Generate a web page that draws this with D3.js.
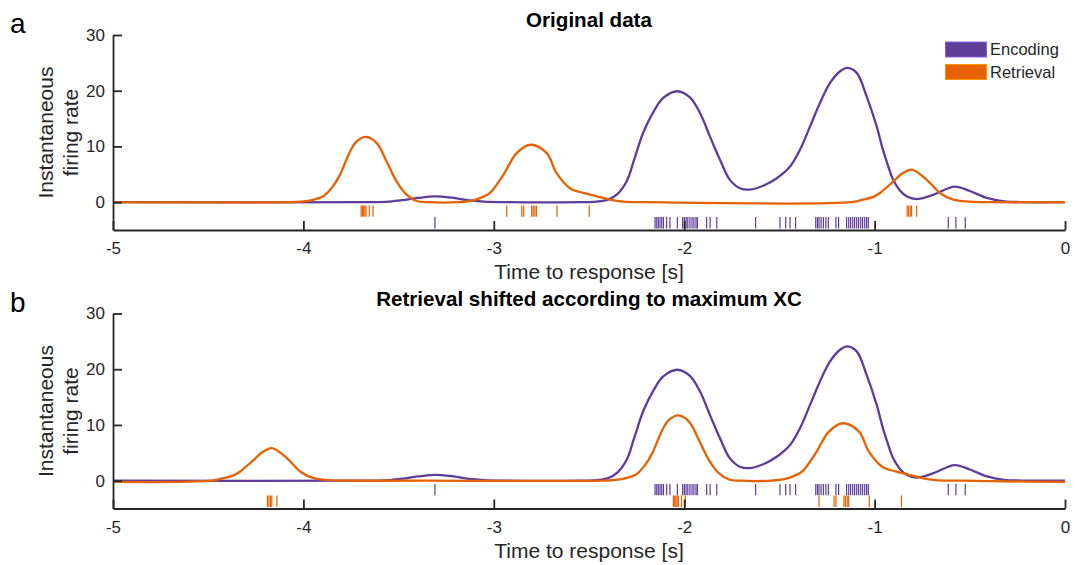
<!DOCTYPE html>
<html>
<head>
<meta charset="utf-8">
<script src="https://cdn.jsdelivr.net/npm/d3@7"></script>
<style>
  body { margin: 0; background: #fff; }
</style>
</head>
<body>
<svg id="chart" width="1076" height="565"></svg>
<script>
// firing rate curves (time to response [s], rate)
const encodingTimes = [-5, -3.65, -3.55, -3.48, -3.4, -3.31, -3.22, -3.14, -3.05, -2.95, -2.55, -2.46, -2.4, -2.35, -2.3, -2.265,
  -2.215, -2.16, -2.11, -2.035, -1.97, -1.917, -1.865, -1.812, -1.76, -1.707, -1.655, -1.585, -1.514, -1.444, -1.392, -1.339,
  -1.287, -1.234, -1.181, -1.143, -1.094, -1.042, -0.989, -0.958, -0.93, -0.905, -0.867, -0.83, -0.78, -0.69, -0.58, -0.5,
  -0.41, -0.32, -0.2, 0];
const encodingRates = [0, 0, 0.1, 0.35, 0.75, 1.05, 0.8, 0.35, 0.08, 0, 0, 0.1, 0.45, 1.5, 3.9, 7.4,
  12.5, 16.3, 18.7, 19.9, 18.8, 16.0, 11.8, 7.6, 4.0, 2.5, 2.25, 2.95, 4.3, 6.4, 9.4, 13.6,
  17.8, 21.4, 23.5, 24.1, 23.2, 19.0, 13.6, 9.6, 6.6, 4.2, 2.1, 1.0, 0.55, 1.35, 2.8, 2.0,
  0.75, 0.15, 0, 0];

const retrievalTimes = [-5, -4.08, -4.0, -3.94, -3.895, -3.85, -3.808, -3.755, -3.72, -3.671, -3.615, -3.563, -3.51, -3.458,
  -3.405, -3.35, -3.18, -3.108, -3.06, -3.02, -2.95, -2.88, -2.806, -2.722, -2.67, -2.6, -2.53, -2.46, -2.39, -2.32, -2.22,
  -1.12, -1.06, -1.01, -0.972, -0.902, -0.86, -0.805, -0.726, -0.657, -0.587, -0.5, -0.4, 0];
const retrievalRates = [0, 0, 0.12, 0.5, 1.05, 2.6, 4.9, 9.1, 10.9, 11.7, 10.6, 7.3, 3.7, 1.35,
  0.2, 0, 0, 0.3, 0.9, 1.65, 4.9, 8.8, 10.3, 8.8, 5.2, 2.5, 1.65, 1.05, 0.45, 0.1, 0,
  0, 0.45, 0.9, 1.65, 3.7, 5.0, 5.85, 4.0, 1.65, 0.45, 0.1, 0, 0];

// spike times (raster)
const encodingSpikes = [-3.309, -2.153, -2.144, -2.136, -2.127, -2.118, -2.109, -2.092, -2.075, -2.036,
  -2.008, -1.999, -1.99, -1.981, -1.97, -1.959, -1.949, -1.938, -1.931, -1.882, -1.864, -1.829, -1.625,
  -1.497, -1.467, -1.444, -1.415, -1.309, -1.3, -1.292, -1.281, -1.269, -1.256, -1.243, -1.203, -1.189,
  -1.147, -1.136, -1.126, -1.115, -1.105, -1.094, -1.084, -1.073, -1.063, -1.052, -1.042, -1.033,
  -0.613, -0.573, -0.524];
const retrievalSpikes = [-3.697, -3.69, -3.684, -3.677, -3.671, -3.654, -3.634, -2.932, -2.853, -2.843,
  -2.801, -2.793, -2.784, -2.776, -2.668, -2.499, -0.829, -0.821, -0.813, -0.806, -0.779];

// shift of retrieval at maximum cross-correlation [s]
const xcShift = 1.64;

const seriesNames = ["Encoding", "Retrieval"];
const panelLetters = ["a", "b"];
const panelTitles = ["Original data", "Retrieval shifted according to maximum XC"];
const xTicks = [-5, -4, -3, -2, -1, 0];
const yTicks = [0, 10, 20, 30];

const purple = "#5e3c99";
const orange = "#e66101";
const axisColor = "#262626";
const fontFamily = "'Liberation Sans', Arial, Helvetica, sans-serif";

let svg = d3.select("#chart");

let x = d3.scaleLinear().domain([-5, 0]).range([113, 1065]);

function toPoints(times, rates, shift) {
  return times.map((t, i) => [t + shift, rates[i]]);
}

function drawPanel(idx, top, bottom) {
  let g = svg.append("g");
  let y = d3.scaleLinear().domain([-5, 30]).range([bottom, top]);
  let shifted = idx === 1;

  let clipId = "clip" + idx;
  svg.append("clipPath").attr("id", clipId)
    .append("rect")
    .attr("x", x(-5)).attr("y", top - 20)
    .attr("width", x(0) - x(-5)).attr("height", bottom - top + 40);

  let line = d3.line()
    .x(d => x(d[0]))
    .y(d => y(d[1]))
    .curve(d3.curveCatmullRom.alpha(0.5));

  // raster rows: upper row right under zero, lower row just above the axis
  let upperRow = [-0.6, -2.6];
  let lowerRow = [-2.65, -4.75];
  let encRow = shifted ? upperRow : lowerRow;
  let retRow = shifted ? lowerRow : upperRow;

  let retSpikes = retrievalSpikes.map(t => {
    if (!shifted) return t;
    let s = t + xcShift;
    return s > 0 ? s - 5 : s;
  });

  g.selectAll(".enc-spike")
    .data(encodingSpikes)
    .enter()
    .append("line")
    .attr("x1", d => x(d)).attr("x2", d => x(d))
    .attr("y1", y(encRow[0])).attr("y2", y(encRow[1]))
    .style("stroke", purple)
    .style("stroke-width", 1.2);

  g.selectAll(".ret-spike")
    .data(retSpikes)
    .enter()
    .append("line")
    .attr("x1", d => x(d)).attr("x2", d => x(d))
    .attr("y1", y(retRow[0])).attr("y2", y(retRow[1]))
    .style("stroke", orange)
    .style("stroke-width", 1.2);

  // curves
  g.append("path")
    .datum(toPoints(encodingTimes, encodingRates, 0))
    .attr("d", line)
    .attr("clip-path", "url(#" + clipId + ")")
    .style("fill", "none")
    .style("stroke", purple)
    .style("stroke-width", 2.3);

  // retrieval: circular shift -> draw twice, clipped to the time window
  let offsets = shifted ? [xcShift, xcShift - 5] : [0];
  offsets.forEach(off => {
    g.append("path")
      .datum(toPoints(retrievalTimes, retrievalRates, off))
      .attr("d", line)
      .attr("clip-path", "url(#" + clipId + ")")
      .style("fill", "none")
      .style("stroke", orange)
      .style("stroke-width", 2.3);
  });

  // x-axis
  let xAxis = g.append("g")
    .attr("transform", "translate(0," + bottom + ")")
    .call(d3.axisBottom(x).tickValues(xTicks).tickSizeInner(-9).tickSizeOuter(0).tickPadding(12)
      .tickFormat(d => String(d)));
  // y-axis
  let yAxis = g.append("g")
    .attr("transform", "translate(" + x(-5) + ",0)")
    .call(d3.axisLeft(y).tickValues(yTicks).tickSizeInner(-9).tickSizeOuter(0).tickPadding(8));

  [xAxis, yAxis].forEach(a => {
    a.selectAll("path, line").style("stroke", axisColor).style("stroke-width", 1.8);
    a.selectAll("text")
      .style("fill", axisColor)
      .style("font-family", fontFamily)
      .style("font-size", "17px");
  });

  // axis labels
  g.append("text")
    .attr("x", (x(-5) + x(0)) / 2)
    .attr("y", bottom + 49)
    .attr("text-anchor", "middle")
    .text("Time to response [s]")
    .style("fill", axisColor)
    .style("font-family", fontFamily)
    .style("font-size", "21px");

  let yMid = (top + bottom) / 2;
  [["Instantaneous", 52.5], ["firing rate", 78]].forEach(l => {
    g.append("text")
      .attr("transform", "translate(" + l[1] + "," + yMid + ") rotate(-90)")
      .attr("text-anchor", "middle")
      .text(l[0])
      .style("fill", axisColor)
      .style("font-family", fontFamily)
      .style("font-size", "21px");
  });

  // title
  g.append("text")
    .attr("x", (x(-5) + x(0)) / 2)
    .attr("y", top - 8)
    .attr("text-anchor", "middle")
    .text(panelTitles[idx])
    .style("fill", "#000")
    .style("font-family", fontFamily)
    .style("font-weight", "bold")
    .style("font-size", "20.6px");

  // panel letter
  g.append("text")
    .attr("x", 10)
    .attr("y", top - 2)
    .text(panelLetters[idx])
    .style("fill", "#000")
    .style("font-family", fontFamily)
    .style("font-size", "28px");
}

drawPanel(0, 35, 230);
drawPanel(1, 313.5, 508.5);

// legend (top panel only)
let legendColors = [purple, orange];
let legend = svg.append("g");
seriesNames.forEach((name, i) => {
  legend.append("rect")
    .attr("x", 945.5)
    .attr("y", 42 + i * 22.5)
    .attr("width", 41)
    .attr("height", 15)
    .style("fill", legendColors[i])
    .style("stroke", d3.color(legendColors[i]).brighter(1.2))
    .style("stroke-width", 1);
  legend.append("text")
    .attr("x", 990)
    .attr("y", 49.5 + i * 22.5)
    .attr("dy", "0.35em")
    .text(name)
    .style("fill", axisColor)
    .style("font-family", fontFamily)
    .style("font-size", "16.5px");
});
</script>
</body>
</html>
